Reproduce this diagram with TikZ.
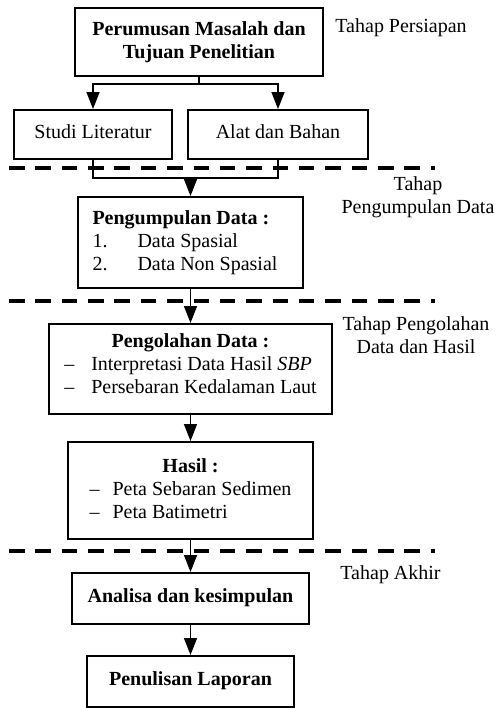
\documentclass[tikz,border=0pt]{standalone}
\usepackage{fontspec}
\setmainfont{Liberation Serif}
\usepackage{tikz}
\usetikzlibrary{arrows.meta}

\tikzset{
	kotak/.style={draw,line width=1pt,inner sep=0pt,align=center},
	satu/.style={text height=7pt,text depth=3.5pt},
	garis/.style={line width=0.8pt},
	panah/.style={line width=0.8pt,-{Triangle[length=8.5pt,width=6.5pt]}},
	batas/.style={line width=2pt,dash pattern=on 7.75pt off 5.43pt},
	tahap/.style={inner sep=0pt,align=center}
}

\begin{document}
\begin{tikzpicture}[x=0.5pt,y=-0.5pt,font=\fontsize{10}{11.5}\selectfont]
	\useasboundingbox (0,0) rectangle (496,708);
	% kotak alur
	\node[kotak,minimum width=124pt,minimum height=34pt] (perumusan) at (199,42)
		{\textbf{Perumusan Masalah dan}\\\textbf{Tujuan Penelitian}};
	\node[kotak,satu,minimum width=79pt,minimum height=24.5pt] (studi) at (93,134.5) {Studi Literatur};
	\node[kotak,satu,minimum width=90pt,minimum height=24.5pt] (alat) at (278,134.5) {Alat dan Bahan};
	\node[kotak,minimum width=112.5pt,minimum height=45.5pt] (pengumpulan) at (190.5,242.5)
		{\begin{tabular}{@{}l@{}}
			\textbf{Pengumpulan Data :}\\
			\makebox[22.5pt][l]{1.}Data Spasial\\
			\makebox[22.5pt][l]{2.}Data Non Spasial
		\end{tabular}\hspace{5.5pt}};
	\node[kotak,minimum width=141.5pt,minimum height=45pt] (pengolahan) at (190.5,369)
		{\begin{tabular}{@{}l@{}}
			\multicolumn{1}{@{}c@{}}{\textbf{Pengolahan Data :}}\\
			\makebox[13.5pt][l]{--}Interpretasi Data Hasil \textit{SBP}\\
			\makebox[13.5pt][l]{--}Persebaran Kedalaman Laut\\[3pt]
		\end{tabular}};
	\node[kotak,minimum width=122.5pt,minimum height=48.5pt] (hasil) at (190.5,490.5)
		{\begin{tabular}{@{}l@{}}
			\multicolumn{1}{@{}c@{}}{\textbf{Hasil :}}\\
			\makebox[11.5pt][l]{--}Peta Sebaran Sedimen\hspace{7pt}\\
			\makebox[11.5pt][l]{--}Peta Batimetri
		\end{tabular}};
	\node[kotak,satu,minimum width=118.5pt,minimum height=25.5pt] (analisa) at (190.5,598.5)
		{\textbf{Analisa dan kesimpulan}};
	\node[kotak,satu,minimum width=103.5pt,minimum height=25.5pt] (laporan) at (190.5,681.5)
		{\textbf{Penulisan Laporan}};
	% label tahap
	\node[tahap,anchor=west] (persiapan) at (335,28) {Tahap Persiapan};
	\node[tahap] (kumpul) at (418,197) {Tahap\\Pengumpulan Data};
	\node[tahap] (olah) at (416,335.5) {Tahap Pengolahan\\Data dan Hasil};
	\node[tahap,anchor=west] (akhir) at (340,575) {Tahap Akhir};
	% garis batas tahap
	\foreach \y in {168,301,551}{
		\draw[batas] (9,\y) -- (435,\y);
	}
	% panah
	\coordinate (cabang) at (199,84);
	\coordinate (gabung) at (190.5,178);
	\draw[garis] (perumusan.south) -- (cabang);
	\draw[panah] (cabang) -| (studi.north);
	\draw[panah] (cabang) -| (alat.north);
	\draw[garis] (studi.south) |- (gabung);
	\draw[garis] (alat.south) |- (gabung);
	\draw[panah] (gabung) -- (pengumpulan.north);
	\draw[panah] (pengumpulan) -- (pengolahan);
	\draw[panah] (pengolahan) -- (hasil);
	\draw[panah] (hasil) -- (analisa);
	\draw[panah] (analisa) -- (laporan);
\end{tikzpicture}
\end{document}
